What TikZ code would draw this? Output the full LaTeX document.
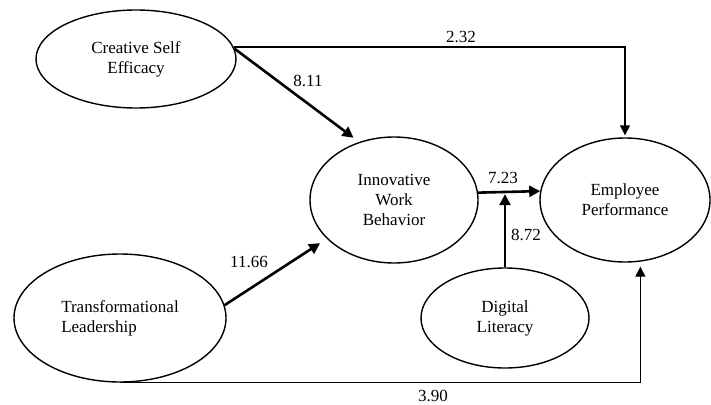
\documentclass[tikz,border=0pt]{standalone}
\usepackage{fontspec}
\setmainfont{Liberation Serif}
\usetikzlibrary{shapes.geometric,arrows.meta,calc}
\begin{document}
\begin{tikzpicture}[x=1pt,y=-1pt,
  lat/.style={ellipse,draw,line width=1.4pt,inner sep=0pt,align=center,
    font=\fontsize{17}{20}\selectfont},
  lbl/.style={inner sep=0pt,font=\fontsize{17}{20}\selectfont},
  thickarrow/.style={line width=2.6pt,-{Triangle[length=11pt,width=11pt]}},
  thinarrow/.style={line width=1.3pt,-{Triangle[length=10pt,width=10pt]}}]
\useasboundingbox (0,0) rectangle (711,404);
\node[lat,minimum width=200pt,minimum height=98pt] (cse) at (136,59) {Creative Self\\Efficacy};
\node[lat,minimum width=168pt,minimum height=126pt] (iwb) at (394,200) {Innovative\\Work\\Behavior};
\node[lat,minimum width=170pt,minimum height=124pt] (ep) at (625,200) {Employee\\Performance};
\node[lat,minimum width=212pt,minimum height=128pt,align=left] (tl) at (120,318) {Transformational\\Leadership};
\node[lat,minimum width=168pt,minimum height=100pt] (dl) at (505,318) {Digital\\Literacy};

\draw[thickarrow,shorten >=7pt] (cse.6) -- (iwb.121);
\draw[thinarrow,shorten >=2pt] (cse.7) -| (ep.north);
\draw[thickarrow,shorten >=8pt] (tl.7) -- (iwb.210.5);
\draw[thickarrow] (iwb.5.5) -- (ep.174.7);
\draw[thickarrow,shorten >=1.5pt] (dl.north) -- (dl.north |- iwb.5.5);
\draw[thinarrow,shorten >=5pt] (tl.south) -| (ep.284.7);

\node[lbl] (l1) at (308,81) {8.11};
\node[lbl] (l2) at (461,37) {2.32};
\node[lbl] (l3) at (249,262) {11.66};
\node[lbl] (l4) at (503,178) {7.23};
\node[lbl] (l5) at (526,235) {8.72};
\node[lbl] (l6) at (433,396) {3.90};
\end{tikzpicture}
\end{document}
